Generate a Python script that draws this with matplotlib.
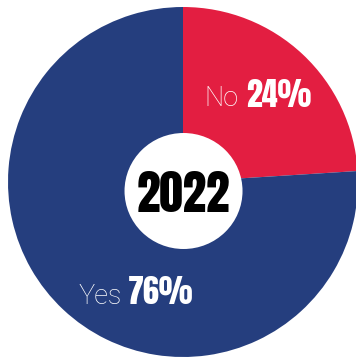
import matplotlib
matplotlib.use("Agg")
import matplotlib.pyplot as plt
from matplotlib.patches import Ellipse

# Survey answer shares for 2022
answers = ["No", "Yes"]
shares = [24, 76]
year_label = "2022"

red = "#e31e41"
blue = "#253e7e"

W, H = 356, 357
fig = plt.figure(figsize=(W / 100, H / 100), dpi=100, facecolor="white")
ax = fig.add_axes([0, 0, 1, 1])

ax.pie(shares, colors=[red, blue], startangle=90, counterclock=False,
       wedgeprops=dict(linewidth=0))
ax.set_aspect("auto")
# pie centre at (183, 182) px from top-left, radius 175 px
R = 175
ax.set_xlim(-183 / R, (W - 183) / R)
ax.set_ylim(-(H - 182) / R, 182 / R)
ax.set_axis_off()

# white hole, sitting a little below the pie centre
ax.add_patch(Ellipse((0.003, -9 / R), 2 * 59 / R, 2 * 58 / R,
                     facecolor="white", edgecolor="none", zorder=5))

heavy = ["Anton", "DejaVu Sans"]
light = ["Roboto", "DejaVu Sans"]


def px(x, y):
    return x / W, 1 - y / H


fig.text(*px(183, 212), year_label, ha="center", va="baseline",
         family=heavy, fontsize=34, color="black", zorder=6)

# label positions (left edge, baseline) in pixels
label_pos = {"No": ((204, 106), (246, 107)), "Yes": ((79, 304), (128, 304))}

for name, val in zip(answers, shares):
    (x1, y1), (x2, y2) = label_pos[name]
    fig.text(*px(x1, y1), name, ha="left", va="baseline", color="white",
             family=light, fontweight="light", fontsize=19.5)
    fig.text(*px(x2, y2), f"{val}%", ha="left", va="baseline", color="white",
             family=heavy, fontsize=23)

fig.savefig("out.png", dpi=100, facecolor="white")
